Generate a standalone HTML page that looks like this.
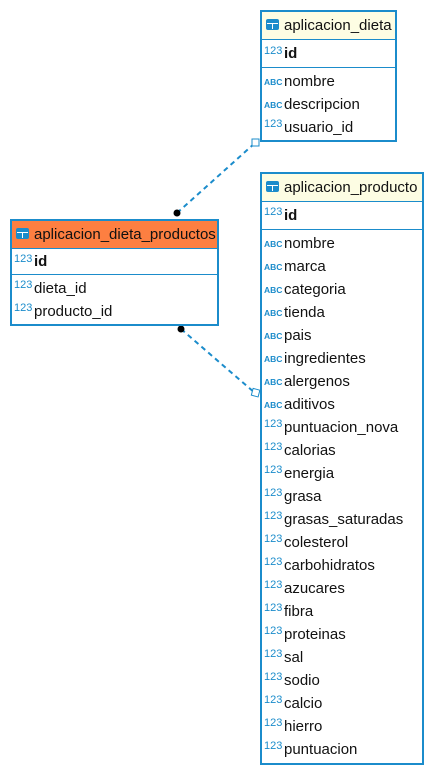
<!DOCTYPE html>
<html><head><meta charset="utf-8"><style>
body{margin:0;width:434px;height:774px;background:#fff;position:relative;font-family:"Liberation Sans",sans-serif;font-size:15px;color:#111;overflow:hidden}
.t{position:absolute;border:2px solid #1b8ccb;box-sizing:border-box;background:#fff}
.h{position:absolute;left:0;right:0;top:0;height:27px;background:#fdfde3;border-bottom:1px solid #1b8ccb}
.h.o{background:#fd7f41}
.r{position:absolute;left:22px;white-space:nowrap;line-height:16px}
.i{position:absolute;left:2px;font-size:8.5px;color:#1b8ccb;font-weight:bold;line-height:10px}
.n{position:absolute;left:2px;font-size:11px;color:#1b8ccb;line-height:10px}
.d{position:absolute;left:0;right:0;height:1px;background:#1b8ccb}
.ti{position:absolute;left:4px;top:7px;width:13px;height:11px;border-radius:2px;background:#1b8ccb}
.ti:before{content:"";position:absolute;left:1px;top:4px;width:11px;height:1px;background:#fff}
.ti:after{content:"";position:absolute;left:6px;top:4px;width:1px;height:6px;background:#fff}
b{font-weight:bold}
</style></head><body>
<svg width="434" height="774" style="position:absolute;left:0;top:0">
<line x1="177" y1="213" x2="255" y2="143" stroke="#1b8ccb" stroke-width="2" stroke-dasharray="5,4"/>
<circle cx="177" cy="213" r="3.5" fill="#000"/>
<rect x="252" y="139" width="7" height="7" fill="#fff" stroke="#1b8ccb"/>
<line x1="181" y1="329" x2="255" y2="393" stroke="#1b8ccb" stroke-width="2" stroke-dasharray="5,4"/>
<circle cx="181" cy="329" r="3.5" fill="#000"/>
<rect x="252" y="389" width="7" height="7" fill="#fff" stroke="#1b8ccb" transform="rotate(15 255 393)"/>
</svg>

<div class="t" style="left:260px;top:10px;width:137px;height:132px">
<div class="h"><div class="ti"></div><div class="r" style="top:6px">aplicacion_dieta</div></div>
<div class="n" style="top:34px">123</div><div class="r" style="top:34px"><b>id</b></div>
<div class="d" style="top:55px"></div>
<div class="i" style="top:65px">ABC</div><div class="r" style="top:62px">nombre</div>
<div class="i" style="top:88px">ABC</div><div class="r" style="top:85px">descripcion</div>
<div class="n" style="top:107px">123</div><div class="r" style="top:108px">usuario_id</div>
</div>

<div class="t" style="left:10px;top:219px;width:209px;height:107px">
<div class="h o"><div class="ti"></div><div class="r" style="top:6px">aplicacion_dieta_productos</div></div>
<div class="n" style="top:33px">123</div><div class="r" style="top:33px"><b>id</b></div>
<div class="d" style="top:53px"></div>
<div class="n" style="top:59px">123</div><div class="r" style="top:60px">dieta_id</div>
<div class="n" style="top:82px">123</div><div class="r" style="top:83px">producto_id</div>
</div>

<div class="t" style="left:260px;top:172px;width:164px;height:593px">
<div class="h"><div class="ti"></div><div class="r" style="top:6px">aplicacion_producto</div></div>
<div class="n" style="top:33px">123</div><div class="r" style="top:34px"><b>id</b></div>
<div class="d" style="top:55px"></div>
<div class="i" style="top:65px">ABC</div><div class="r" style="top:62px">nombre</div>
<div class="i" style="top:88px">ABC</div><div class="r" style="top:85px">marca</div>
<div class="i" style="top:111px">ABC</div><div class="r" style="top:108px">categoria</div>
<div class="i" style="top:134px">ABC</div><div class="r" style="top:131px">tienda</div>
<div class="i" style="top:157px">ABC</div><div class="r" style="top:154px">pais</div>
<div class="i" style="top:180px">ABC</div><div class="r" style="top:177px">ingredientes</div>
<div class="i" style="top:203px">ABC</div><div class="r" style="top:200px">alergenos</div>
<div class="i" style="top:226px">ABC</div><div class="r" style="top:223px">aditivos</div>
<div class="n" style="top:245px">123</div><div class="r" style="top:246px">puntuacion_nova</div>
<div class="n" style="top:268px">123</div><div class="r" style="top:269px">calorias</div>
<div class="n" style="top:291px">123</div><div class="r" style="top:292px">energia</div>
<div class="n" style="top:314px">123</div><div class="r" style="top:315px">grasa</div>
<div class="n" style="top:337px">123</div><div class="r" style="top:338px">grasas_saturadas</div>
<div class="n" style="top:360px">123</div><div class="r" style="top:361px">colesterol</div>
<div class="n" style="top:383px">123</div><div class="r" style="top:384px">carbohidratos</div>
<div class="n" style="top:406px">123</div><div class="r" style="top:407px">azucares</div>
<div class="n" style="top:429px">123</div><div class="r" style="top:430px">fibra</div>
<div class="n" style="top:452px">123</div><div class="r" style="top:453px">proteinas</div>
<div class="n" style="top:475px">123</div><div class="r" style="top:476px">sal</div>
<div class="n" style="top:498px">123</div><div class="r" style="top:499px">sodio</div>
<div class="n" style="top:521px">123</div><div class="r" style="top:522px">calcio</div>
<div class="n" style="top:544px">123</div><div class="r" style="top:545px">hierro</div>
<div class="n" style="top:567px">123</div><div class="r" style="top:568px">puntuacion</div>
</div>
</body></html>
